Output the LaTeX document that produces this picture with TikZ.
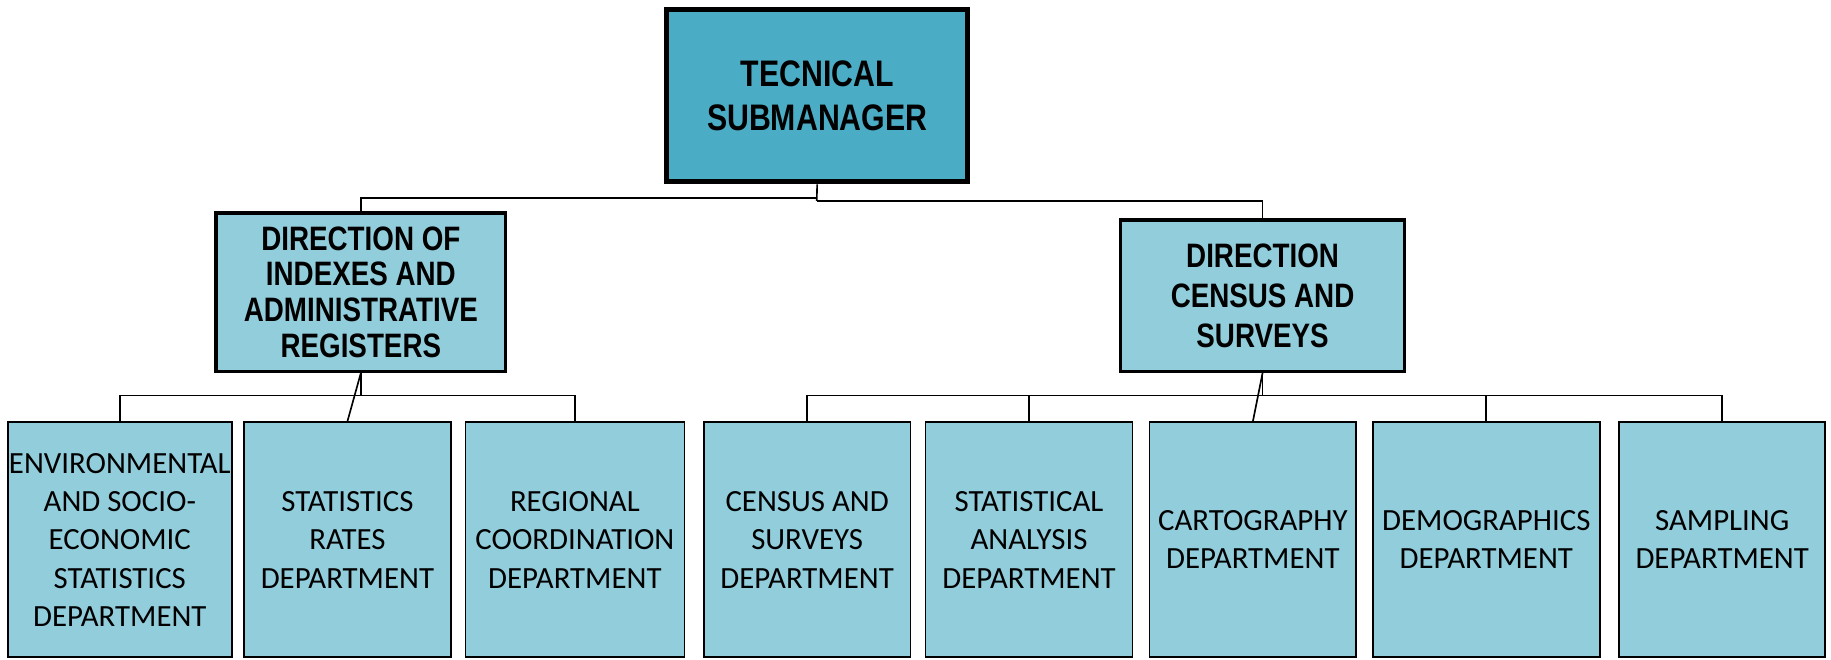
\documentclass[tikz,border=0pt]{standalone}
\usepackage{fontspec}
\setmainfont{Carlito}
\newfontfamily\headfont[FakeStretch=0.82]{Liberation Sans}
\usetikzlibrary{positioning}
\definecolor{topblue}{RGB}{75,172,198}
\definecolor{lightblue}{RGB}{146,205,220}

\begin{document}
\begin{tikzpicture}[x=1pt,y=1pt]
\tikzstyle{manager} = [
	shape=rectangle,
	draw=black, %thick border of the top box
	fill=topblue,
	line width=2.1pt,
	minimum width=129pt,
	minimum height=74pt,
	align=center,
	font=\headfont\bfseries\fontsize{15.8}{19}\selectfont
];
\tikzstyle{direction} = [
	shape=rectangle,
	draw=black,
	fill=lightblue,
	line width=1.45pt,
	minimum width=124pt,
	minimum height=67.8pt,
	align=center,
	font=\headfont\bfseries\fontsize{14.5}{15.3}\selectfont
];
\tikzstyle{dept} = [
	shape=rectangle,
	draw=black,
	fill=lightblue,
	line width=0.65pt,
	minimum height=100.6pt,
	inner sep=0.5pt,
	align=center,
	font=\fontsize{13.2}{16.4}\selectfont
];
\tikzstyle{link} = [draw=black, line width=0.7pt];

\useasboundingbox (0,0) rectangle (784,-282.5);

%top box
\node[manager](boss) at (349.9,-40.9) {TECNICAL\\SUBMANAGER};

%directions
\node[direction](dirIdx) at (154.5,-125.1) {DIRECTION OF\\INDEXES AND\\ADMINISTRATIVE\\REGISTERS};
\node[direction, minimum width=121.7pt, minimum height=64.8pt,
	font=\headfont\bfseries\fontsize{14.5}{17}\selectfont](dirCen) at (540.6,-126.6) {DIRECTION\\CENSUS AND\\SURVEYS};

%departments
\begin{scope}[shift={(0,-231.1)}]
	\node[dept, minimum width=95.2pt](env) at (51.3,0) {ENVIRONMENTAL\\AND SOCIO-\\ECONOMIC\\STATISTICS\\DEPARTMENT};
	\node[dept, minimum width=88.5pt](rates) at (148.75,0) {STATISTICS\\RATES\\DEPARTMENT};
	\node[dept, minimum width=93.75pt](regional) at (246.15,0) {REGIONAL\\COORDINATION\\DEPARTMENT};
	\node[dept, minimum width=88.5pt](censusDep) at (345.6,0) {CENSUS AND\\SURVEYS\\DEPARTMENT};
	\node[dept, minimum width=88.6pt](analysis) at (440.6,0) {STATISTICAL\\ANALYSIS\\DEPARTMENT};
	\node[dept, minimum width=88.5pt](carto) at (536.45,0) {CARTOGRAPHY\\DEPARTMENT};
	\node[dept, minimum width=97.25pt](demo) at (636.4,0) {DEMOGRAPHICS\\DEPARTMENT};
	\node[dept, minimum width=88.25pt](sampling) at (737.4,0) {SAMPLING\\DEPARTMENT};
\end{scope}

%top level lines
\coordinate (splitL) at (349.7,-84.9);
\coordinate (splitR) at (349.7,-86);
\draw[link] (boss.south) -- (splitR);
\draw[link] (dirIdx.north) |- (splitL);
\draw[link] (dirCen.north) |- (splitR);

%indexes branch
\coordinate (busIdx) at (154.5,-169.4);
\draw[link] (dirIdx.south) -- (busIdx);
\draw[link] (dirIdx.south) -- (rates.north);
\draw[link] (env.north) |- (busIdx);
\draw[link] (regional.north) |- (busIdx);

%census branch
\coordinate (busCen) at (540.6,-169.4);
\draw[link] (dirCen.south) -- (busCen);
\draw[link] (dirCen.south) -- (carto.north);
\draw[link] (censusDep.north) |- (busCen);
\draw[link] (analysis.north) |- (busCen);
\draw[link] (demo.north) |- (busCen);
\draw[link] (sampling.north) |- (busCen);
\end{tikzpicture}
\end{document}
